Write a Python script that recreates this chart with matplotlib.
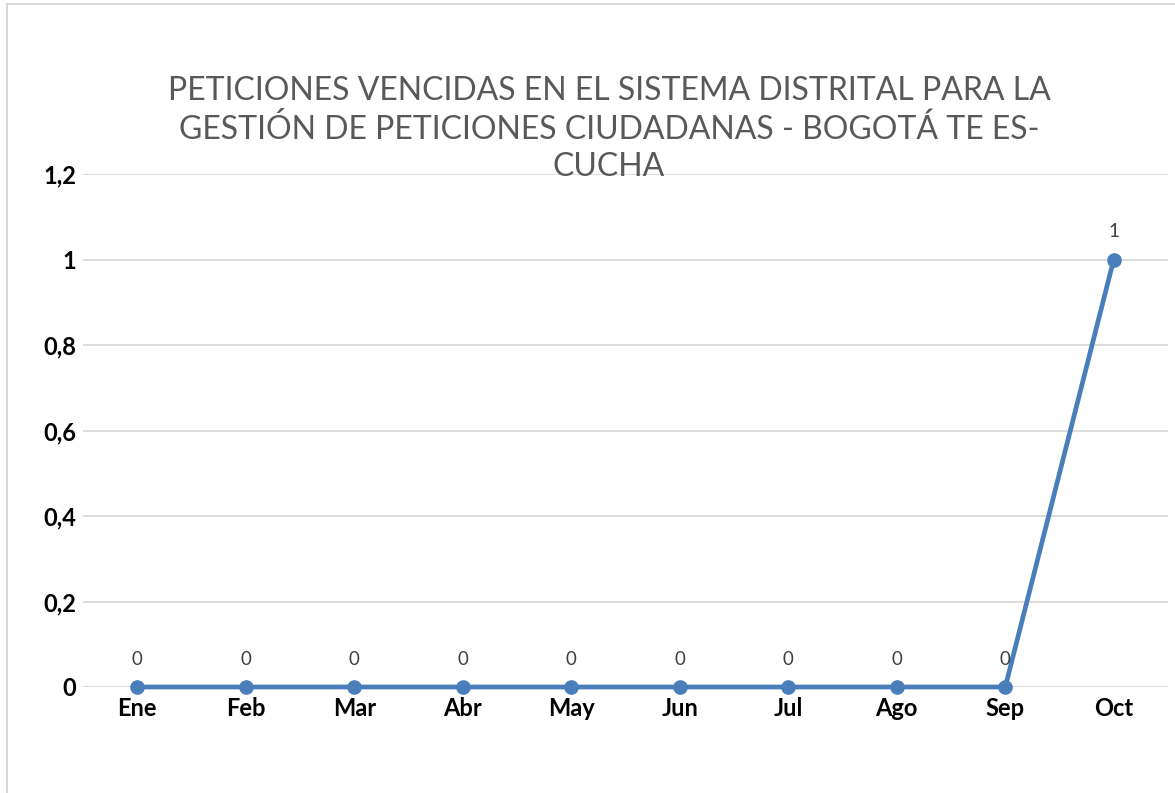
from matplotlib import pyplot as plt
from matplotlib.patches import Rectangle

# Valores
meses = ["Ene", "Feb", "Mar", "Abr", "May", "Jun", "Jul", "Ago", "Sep", "Oct"]
peticiones = [0, 0, 0, 0, 0, 0, 0, 0, 0, 1]
y_ticks = [0, 0.2, 0.4, 0.6, 0.8, 1.0, 1.2]
y_tick_labels = ["0", "0,2", "0,4", "0,6", "0,8", "1", "1,2"]

titulo = ("PETICIONES VENCIDAS EN EL SISTEMA DISTRITAL PARA LA\n"
          "GESTIÓN DE PETICIONES CIUDADANAS - BOGOTÁ TE ES-\n"
          "CUCHA")


def main():
    plt.rcParams['font.family'] = ['Lato', 'DejaVu Sans']

    fig = plt.figure(figsize=(11.75, 7.93), dpi=100)
    ax = fig.add_axes([83 / 1175, 1 - 687 / 793, (1168 - 83) / 1175, (687 - 174) / 793])

    # borde del area del grafico
    fig.patches.append(Rectangle((7 / 1175, -0.01), 1.1, 1 - 4 / 793 + 0.01,
                                 transform=fig.transFigure, fill=False,
                                 edgecolor="#d9d9d9", linewidth=1.5))

    x = list(range(len(meses)))
    ax.plot(x, peticiones, color="#4a7ebb", linewidth=3.4, marker="o",
            markersize=9.5, zorder=3, clip_on=False)

    for xi, yi in zip(x, peticiones):
        ax.annotate(str(yi), (xi, yi), xytext=(0, 20), textcoords="offset points",
                    ha="center", va="center", fontsize=13.5, color="#404040")

    ax.set_xlim(-0.5, len(meses) - 0.5)
    ax.set_ylim(0, 1.2)
    ax.set_yticks(y_ticks)
    ax.set_yticklabels(y_tick_labels, fontsize=17, fontweight="bold")
    ax.set_xticks(x)
    ax.set_xticklabels(meses, fontsize=17, fontweight="bold")
    ax.tick_params(axis="both", length=0)
    ax.tick_params(axis="y", pad=5)
    ax.tick_params(axis="x", pad=7)

    ax.yaxis.grid(True, color="#d9d9d9", linewidth=1.3)
    ax.set_axisbelow(True)
    for s in ax.spines.values():
        s.set_visible(False)

    fig.text(609 / 1175, 1 - 129 / 793, titulo, ha="center", va="center",
             fontsize=23, color="#595959", linespacing=1.3)

    fig.savefig("out.png", dpi=100)


if __name__ == "__main__":
    main()
